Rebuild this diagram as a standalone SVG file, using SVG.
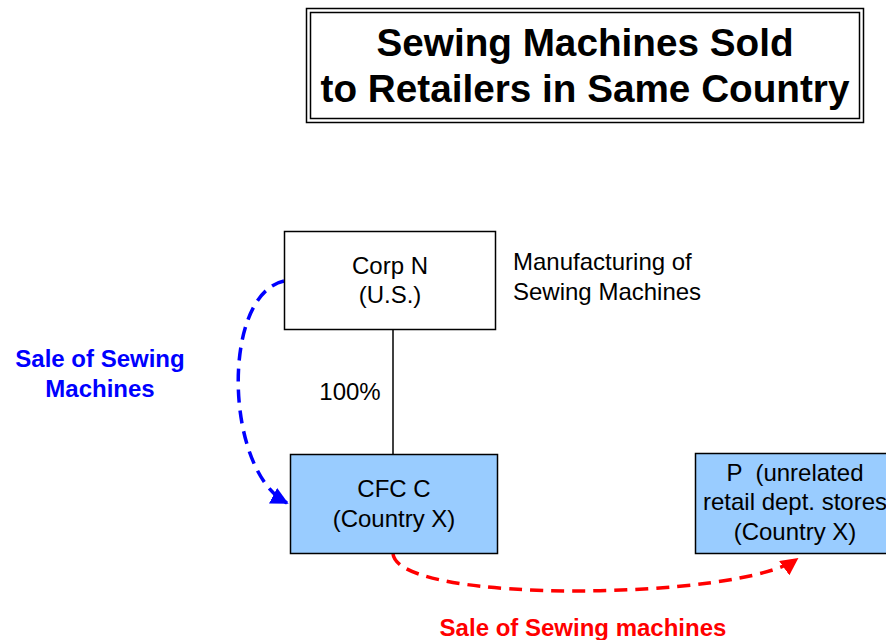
<svg xmlns="http://www.w3.org/2000/svg" width="886" height="640" viewBox="0 0 886 640">
<defs>
<style>
.t{font-family:"Liberation Sans",Arial,sans-serif;font-size:24px;fill:#000;text-anchor:middle}
.b{font-family:"Liberation Sans",Arial,sans-serif;font-weight:bold;text-anchor:middle}
.box{stroke:#000;stroke-width:1.5}
.dash{fill:none;stroke-width:3.5;stroke-dasharray:13,8}
</style>
<marker id="ab" viewBox="0 0 10 10" refX="9" refY="5" markerWidth="5" markerHeight="5" orient="auto" markerUnits="strokeWidth"><path d="M0,0 L10,5 L0,10 z" fill="#0000FF"/></marker>
<marker id="ar" viewBox="0 0 10 10" refX="9" refY="5" markerWidth="5" markerHeight="5" orient="auto" markerUnits="strokeWidth"><path d="M0,0 L10,5 L0,10 z" fill="#FF0000"/></marker>
</defs>
<rect width="886" height="640" fill="#fff"/>
<g id="title">
<rect x="306.5" y="8.5" width="557" height="114" fill="#fff" stroke="#000" stroke-width="1.5"/>
<rect x="310.5" y="12.5" width="549" height="106" fill="none" stroke="#000" stroke-width="1.5"/>
<text class="b" x="585" y="56" font-size="38.7">Sewing Machines Sold</text>
<text class="b" x="585" y="102" font-size="38.7">to Retailers in Same Country</text>
</g>
<g id="connectors">
<line x1="393" y1="329" x2="393" y2="454" stroke="#000" stroke-width="1.5"/>
<path class="dash" stroke="#0000FF" d="M284,281 C221,295 224,470 287,503" marker-end="url(#ab)"/>
<path class="dash" stroke="#FF0000" d="M393,554 C400,605 740,600 797,559" marker-end="url(#ar)"/>
</g>
<g id="corpN">
<rect class="box" x="284.5" y="231.5" width="211" height="98" fill="#fff"/>
<text class="t" x="390" y="274">Corp N</text>
<text class="t" x="390" y="303">(U.S.)</text>
</g>
<g id="mfgLabel">
<text class="t" x="513" y="270" style="text-anchor:start">Manufacturing of</text>
<text class="t" x="513" y="300" style="text-anchor:start">Sewing Machines</text>
</g>
<g id="pct">
<text class="t" x="350" y="400">100%</text>
</g>
<g id="cfcC">
<rect class="box" x="290.5" y="454.5" width="207" height="99" fill="#99CCFF"/>
<text class="t" x="394" y="497">CFC C</text>
<text class="t" x="394" y="527">(Country X)</text>
</g>
<g id="P">
<rect class="box" x="695.5" y="453.5" width="205" height="100" fill="#99CCFF"/>
<text class="t" x="795" y="481" xml:space="preserve">P  (unrelated</text>
<text class="t" x="795" y="510">retail dept. stores</text>
<text class="t" x="795" y="540">(Country X)</text>
</g>
<g id="blueLabel">
<text class="b" x="100" y="367" font-size="24" fill="#0000FF">Sale of Sewing</text>
<text class="b" x="100" y="397" font-size="24" fill="#0000FF">Machines</text>
</g>
<g id="redLabel">
<text class="b" x="583" y="636" font-size="24" fill="#FF0000">Sale of Sewing machines</text>
</g>
</svg>
